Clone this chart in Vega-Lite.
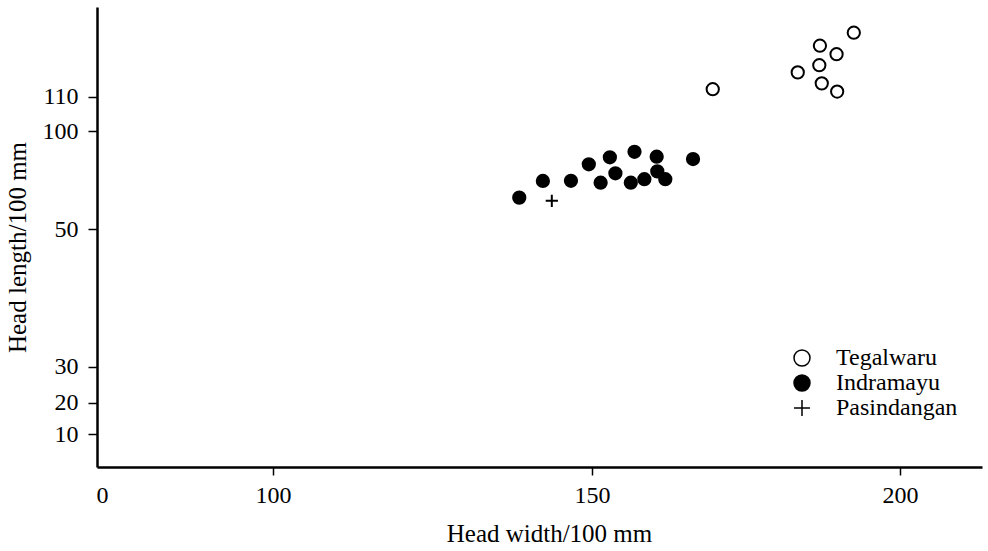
{
  "$schema": "https://vega.github.io/schema/vega-lite/v6.json",
  "width": 885,
  "height": 460,
  "autosize": {"type": "none"},
  "padding": {"left": 97, "top": 7, "right": 6, "bottom": 84},
  "background": "white",
  "config": {
    "font": "Liberation Serif",
    "view": {"stroke": null},
    "axis": {
      "grid": false,
      "domainColor": "black",
      "tickColor": "black",
      "labelColor": "black",
      "titleColor": "black",
      "labelFont": "Liberation Serif",
      "titleFont": "Liberation Serif",
      "labelFontSize": 24,
      "titleFontSize": 25,
      "titleFontWeight": "normal"
    },
    "legend": {
      "labelFont": "Liberation Serif",
      "labelFontSize": 24,
      "labelColor": "black"
    }
  },
  "data": {
    "values": [
      {"w": 138.6, "l": 66.0, "site": "Indramayu"},
      {"w": 142.3, "l": 74.5, "site": "Indramayu"},
      {"w": 146.7, "l": 74.6, "site": "Indramayu"},
      {"w": 149.5, "l": 83.0, "site": "Indramayu"},
      {"w": 152.9, "l": 86.6, "site": "Indramayu"},
      {"w": 151.4, "l": 73.6, "site": "Indramayu"},
      {"w": 153.8, "l": 78.4, "site": "Indramayu"},
      {"w": 156.9, "l": 89.4, "site": "Indramayu"},
      {"w": 156.3, "l": 73.6, "site": "Indramayu"},
      {"w": 158.5, "l": 75.4, "site": "Indramayu"},
      {"w": 160.5, "l": 86.9, "site": "Indramayu"},
      {"w": 160.6, "l": 79.4, "site": "Indramayu"},
      {"w": 161.9, "l": 75.4, "site": "Indramayu"},
      {"w": 166.4, "l": 85.7, "site": "Indramayu"},
      {"w": 143.7, "l": 64.4, "site": "Pasindangan"},
      {"w": 169.6, "l": 112.2, "site": "Tegalwaru"},
      {"w": 183.4, "l": 117.1, "site": "Tegalwaru"},
      {"w": 187.0, "l": 124.9, "site": "Tegalwaru"},
      {"w": 189.7, "l": 122.4, "site": "Tegalwaru"},
      {"w": 186.9, "l": 119.2, "site": "Tegalwaru"},
      {"w": 187.3, "l": 113.9, "site": "Tegalwaru"},
      {"w": 189.8, "l": 111.5, "site": "Tegalwaru"},
      {"w": 192.5, "l": 128.7, "site": "Tegalwaru"}
    ]
  },
  "mark": {"type": "point", "size": 150, "stroke": "black", "strokeWidth": 2, "opacity": 1},
  "encoding": {
    "x": {
      "field": "w",
      "type": "quantitative",
      "scale": {"type": "linear", "domain": [-3, 0, 100, 150, 200, 213.3], "range": [0, 5, 176, 495, 803, 885], "zero": false, "nice": false},
      "axis": {
        "values": [0, 100, 150, 200],
        "title": "Head width/100 mm",
        "domainWidth": 2.5,
        "tickWidth": 1.5,
        "tickSize": 8,
        "tickOpacity": {"condition": {"test": "datum.value === 0", "value": 0}, "value": 1},
        "labelBaseline": "alphabetic",
        "labelPadding": 27,
        "titleX": 452,
        "titleY": 74,
        "titleBaseline": "alphabetic"
      }
    },
    "y": {
      "field": "l",
      "type": "quantitative",
      "scale": {"type": "linear", "domain": [0, 10, 20, 30, 50, 100, 110, 136.2], "range": [460, 427, 395.7, 359.7, 222, 124, 89.7, 0], "zero": false, "nice": false},
      "axis": {
        "values": [10, 20, 30, 50, 100, 110],
        "title": "Head length/100 mm",
        "domainWidth": 2.5,
        "tickWidth": 1.5,
        "tickSize": 9,
        "labelPadding": 10,
        "titleX": -80,
        "titleY": 240,
        "titleBaseline": "middle",
        "titleAngle": -90
      }
    },
    "shape": {
      "field": "site",
      "type": "nominal",
      "scale": {"domain": ["Tegalwaru", "Indramayu", "Pasindangan"], "range": ["circle", "circle", "M-1,0H1M0,-1V1"]},
      "legend": {
        "title": null,
        "orient": "none",
        "legendX": 693,
        "legendY": 339,
        "padding": 0,
        "symbolSize": 256,
        "labelOffset": 22,
        "rowPadding": 1,
        "encode": {"symbols": {"update": {"stroke": {"value": "black"}, "strokeWidth": {"value": 2}, "opacity": {"value": 1}}}}
      }
    },
    "fill": {
      "field": "site",
      "type": "nominal",
      "scale": {"domain": ["Tegalwaru", "Indramayu", "Pasindangan"], "range": ["white", "black", "black"]},
      "legend": {
        "title": null,
        "orient": "none",
        "legendX": 693,
        "legendY": 339,
        "padding": 0,
        "symbolSize": 256,
        "labelOffset": 22,
        "rowPadding": 1,
        "encode": {"symbols": {"update": {"stroke": {"value": "black"}, "strokeWidth": {"value": 2}, "opacity": {"value": 1}}}}
      }
    }
  }
}
